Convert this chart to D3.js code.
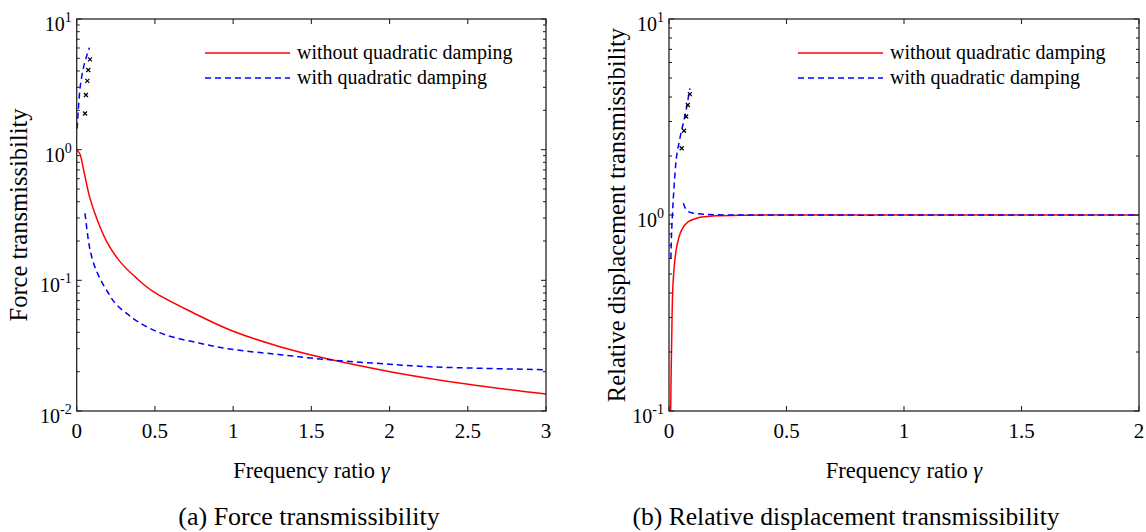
<!DOCTYPE html>
<html><head><meta charset="utf-8">
<script src="https://cdn.jsdelivr.net/npm/d3@7"></script>
<style>body{margin:0;background:#fff}svg{display:block}text{font-family:"Liberation Serif","Times New Roman",serif;fill:#000}</style>
</head><body>
<svg id="c" width="1146" height="532"></svg>
<script>
// ---- data ----
const aRedX = [0, 0.02, 0.042, 0.085, 0.128, 0.192, 0.277, 0.384, 0.49, 0.75, 0.98, 1.3, 1.588, 2.003, 2.503, 3.0];
const aRedY = [1.0, 0.93, 0.72, 0.424, 0.298, 0.198, 0.139, 0.1035, 0.0819, 0.056, 0.0417, 0.031, 0.0253, 0.020, 0.016, 0.0135];
const aBlueUpX = [0.003, 0.01, 0.021, 0.03, 0.042, 0.059, 0.07, 0.081];
const aBlueUpY = [1.45, 2.0, 2.94, 3.5, 4.19, 5.0, 5.5, 6.04];
const aBlueLoX = [0.053, 0.074, 0.085, 0.11, 0.149, 0.202, 0.25, 0.362, 0.45, 0.575, 0.788, 0.98, 1.3, 1.588, 2.0, 2.26, 2.6, 2.994];
const aBlueLoY = [0.326, 0.205, 0.172, 0.133, 0.103, 0.08, 0.066, 0.051, 0.044, 0.038, 0.033, 0.0298, 0.027, 0.0248, 0.0228, 0.0218, 0.0212, 0.0207];
const aMarkX = [0.053, 0.059, 0.068, 0.074, 0.085];
const aMarkY = [1.89, 2.62, 3.36, 4.07, 4.91];

const bRedX = [0.007, 0.011, 0.018, 0.033, 0.054, 0.082, 0.12, 0.153, 0.2, 0.3, 0.5, 2.0];
const bRedY = [0.1, 0.213, 0.466, 0.69, 0.84, 0.925, 0.965, 0.98, 0.99, 0.997, 1.0, 1.0];
const bBlueUpX = [0.008, 0.011, 0.018, 0.025, 0.032, 0.043, 0.054, 0.064, 0.073, 0.081, 0.089];
const bBlueUpY = [0.6, 0.81, 1.19, 1.6, 1.98, 2.35, 2.72, 3.05, 3.43, 3.9, 4.43];
const bBlueLoX = [0.061, 0.07, 0.082, 0.1, 0.125, 0.16, 0.2, 0.3, 2.0];
const bBlueLoY = [1.15, 1.08, 1.04, 1.025, 1.015, 1.007, 1.003, 1.0, 1.0];
const bMarkX = [0.054, 0.064, 0.073, 0.080, 0.089];
const bMarkY = [2.19, 2.69, 3.18, 3.64, 4.14];

const aXTicks = [0, 0.5, 1, 1.5, 2, 2.5, 3];
const bXTicks = [0, 0.5, 1, 1.5, 2];
const aYTicks = [-2, -1, 0, 1];
const bYTicks = [-1, 0, 1];
const legendLabels = ["without quadratic damping", "with quadratic damping"];
const panels = [
  {id:"a", x0:76.7, x1:546, xDom:[0,3], yDom:[0.01,10], xTicks:aXTicks, yTicks:aYTicks,
   ylab:"Force transmissibility", ylabX:27, cap:"(a) Force transmissibility", capX:309, capSize:26,
   red:[aRedX,aRedY], blue:[[aBlueUpX,aBlueUpY],[aBlueLoX,aBlueLoY]], marks:[aMarkX,aMarkY], legX:205},
  {id:"b", x0:669, x1:1139, xDom:[0,2], yDom:[0.1,10], xTicks:bXTicks, yTicks:bYTicks,
   ylab:"Relative displacement transmissibility", ylabX:625, cap:"(b) Relative displacement transmissibility", capX:846, capSize:25.6,
   red:[bRedX,bRedY], blue:[[bBlueUpX,bBlueUpY],[bBlueLoX,bBlueLoY]], marks:[bMarkX,bMarkY], legX:798}
];
const plotTop = 19, plotBot = 411;
const svg = d3.select("#c");
const axisCol = "#262626";

panels.forEach(p => {
  const x = d3.scaleLinear().domain(p.xDom).range([p.x0, p.x1]);
  const y = d3.scaleLog().domain(p.yDom).range([plotBot, plotTop]);
  const g = svg.append("g");
  const clipId = "clip" + p.id;
  svg.append("clipPath").attr("id", clipId).append("rect")
    .attr("x", p.x0).attr("y", plotTop).attr("width", p.x1 - p.x0).attr("height", plotBot - plotTop);

  const line = d3.line().x(d => x(d[0])).y(d => y(d[1])).curve(d3.curveCatmullRom.alpha(0.5));
  const zip = (xs, ys) => xs.map((v, i) => [v, ys[i]]);
  const plot = g.append("g").attr("clip-path", `url(#${clipId})`);
  plot.append("path").attr("d", line(zip(p.red[0], p.red[1])))
    .attr("fill", "none").attr("stroke", "#ff0000").attr("stroke-width", 1.5);
  p.blue.forEach(b => {
    plot.append("path").attr("d", line(zip(b[0], b[1])))
      .attr("fill", "none").attr("stroke", "#0000ff").attr("stroke-width", 1.5).attr("stroke-dasharray", "6,4");
  });
  const mk = zip(p.marks[0], p.marks[1]);
  plot.selectAll(null).data(mk).enter().append("path")
    .attr("d", d => { const cx = x(d[0]), cy = y(d[1]), s = 2; return `M${cx-s},${cy-s}L${cx+s},${cy+s}M${cx-s},${cy+s}L${cx+s},${cy-s}`; })
    .attr("stroke", "#000").attr("stroke-width", 1.2);

  const ax = g.append("g");
  ax.append("rect").attr("x", p.x0).attr("y", plotTop).attr("width", p.x1 - p.x0).attr("height", plotBot - plotTop)
    .attr("fill", "none").attr("stroke", axisCol).attr("stroke-width", 1.3);
  p.xTicks.forEach(t => {
    const px = x(t);
    ax.append("line").attr("x1", px).attr("x2", px).attr("y1", plotBot).attr("y2", plotBot - 5).attr("stroke", axisCol).attr("stroke-width", 1.1);
    ax.append("line").attr("x1", px).attr("x2", px).attr("y1", plotTop).attr("y2", plotTop + 5).attr("stroke", axisCol).attr("stroke-width", 1.1);
    ax.append("text").attr("x", px).attr("y", plotBot + 27).attr("text-anchor", "middle").attr("font-size", 21).text(d3.format("~g")(t));
  });
  const e0 = Math.round(Math.log10(p.yDom[0])), e1 = Math.round(Math.log10(p.yDom[1]));
  for (let e = e0; e <= e1; e++) {
    for (let m = 1; m <= 9; m++) {
      const v = m * Math.pow(10, e);
      if (v > p.yDom[1] * 1.0001) break;
      const py = y(v), len = m === 1 ? 5 : 3;
      ax.append("line").attr("x1", p.x0).attr("x2", p.x0 + len).attr("y1", py).attr("y2", py).attr("stroke", axisCol).attr("stroke-width", 1.1);
      ax.append("line").attr("x1", p.x1).attr("x2", p.x1 - len).attr("y1", py).attr("y2", py).attr("stroke", axisCol).attr("stroke-width", 1.1);
    }
  }
  p.yTicks.forEach(e => {
    const py = y(Math.pow(10, e));
    const t = ax.append("text").attr("x", p.x0 - 5).attr("y", py + 12).attr("text-anchor", "end").attr("font-size", 20);
    t.append("tspan").text("10");
    t.append("tspan").attr("dy", -9).attr("font-size", 14).text(e < 0 ? "-" + (-e) : String(e));
  });
  const cx = (p.x0 + p.x1) / 2;
  const xl = g.append("text").attr("x", cx).attr("y", 478).attr("text-anchor", "middle").attr("font-size", 22.5);
  xl.append("tspan").text("Frequency ratio ");
  xl.append("tspan").attr("font-style", "italic").text("γ");
  g.append("text").attr("transform", `translate(${p.ylabX},${(plotTop + plotBot) / 2}) rotate(-90)`)
    .attr("text-anchor", "middle").attr("font-size", 24.5).text(p.ylab);
  g.append("text").attr("x", p.capX).attr("y", 525).attr("text-anchor", "middle").attr("font-size", p.capSize).text(p.cap);
  legendLabels.forEach((lab, i) => {
    const ly = 53 + i * 25;
    g.append("line").attr("x1", p.legX).attr("x2", p.legX + 85).attr("y1", ly).attr("y2", ly)
      .attr("stroke", i === 0 ? "#ff0000" : "#0000ff").attr("stroke-width", 1.5)
      .attr("stroke-dasharray", i === 0 ? null : "6,4");
    g.append("text").attr("x", p.legX + 92).attr("y", ly + 6).attr("font-size", 20).text(lab);
  });
});
</script>
</body></html>
